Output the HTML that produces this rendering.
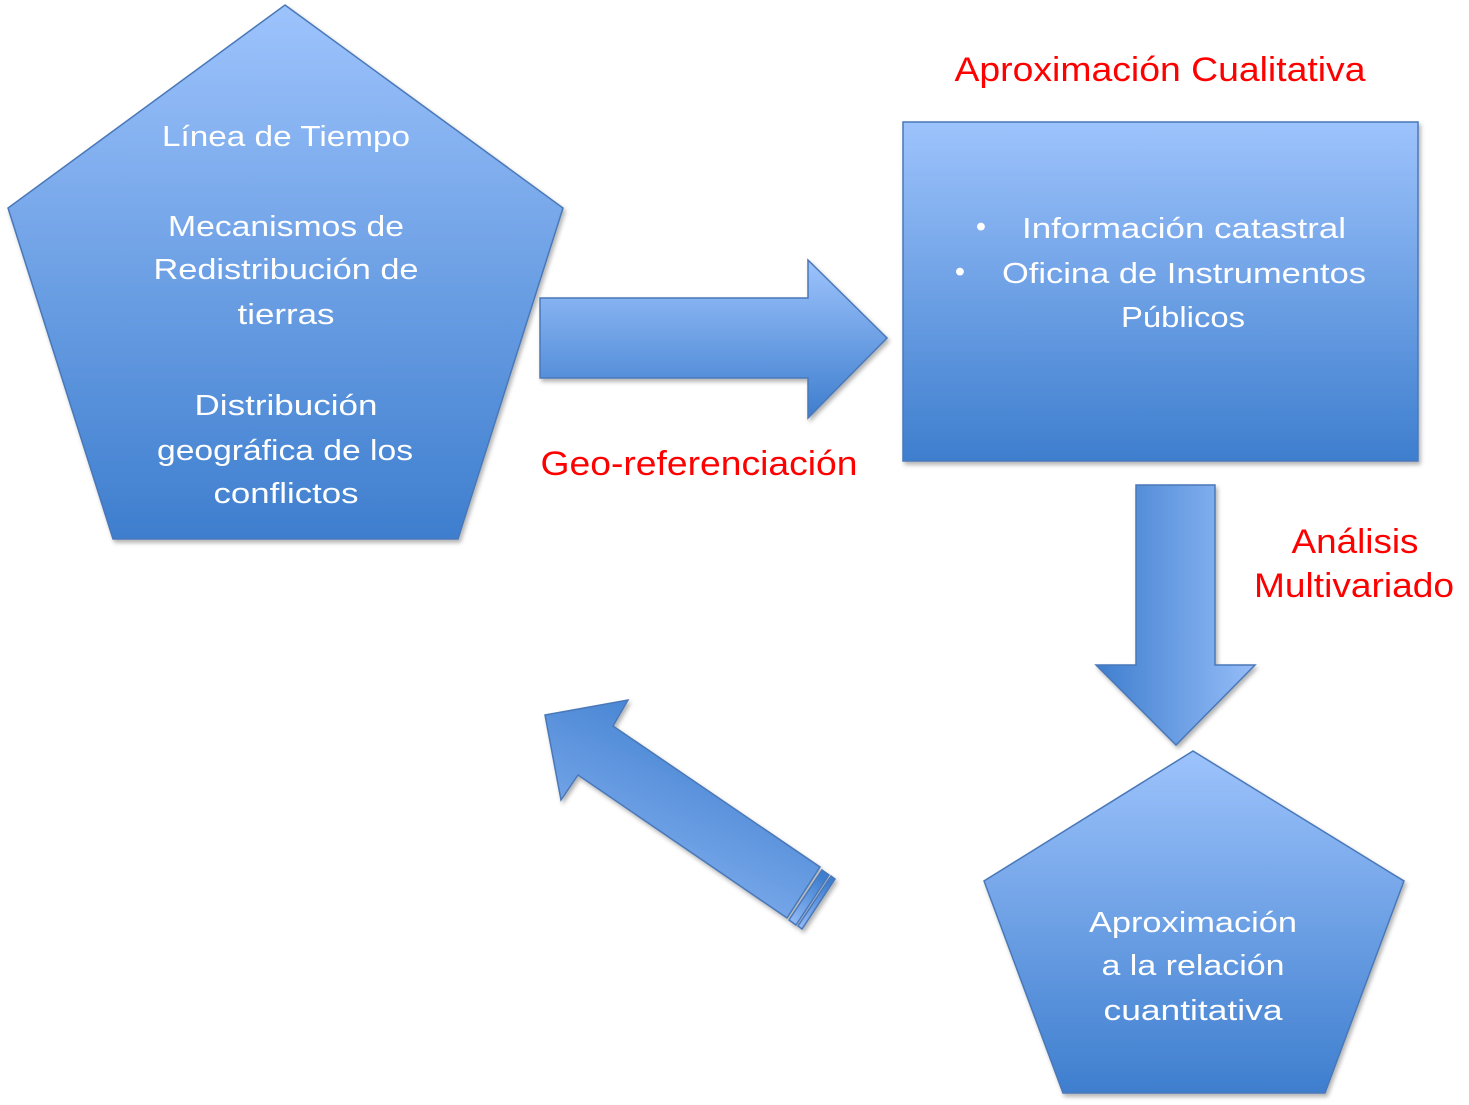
<!DOCTYPE html>
<html><head><meta charset="utf-8"><style>html,body{margin:0;padding:0;background:#fff;}svg{display:block}</style></head>
<body>
<svg width="1469" height="1105" viewBox="0 0 1469 1105" xmlns="http://www.w3.org/2000/svg">
<defs>
<linearGradient id="gv" x1="0" y1="0" x2="0" y2="1"><stop offset="0" stop-color="#9dc3fc"/><stop offset="1" stop-color="#3e7ece"/></linearGradient>
<linearGradient id="gh" x1="0" y1="0" x2="1" y2="0"><stop offset="0" stop-color="#3e7ece"/><stop offset="1" stop-color="#96bdf8"/></linearGradient>
<linearGradient id="gd" x1="0" y1="1" x2="0.6" y2="0"><stop offset="0" stop-color="#96bdf8"/><stop offset="1" stop-color="#3e7ece"/></linearGradient>
<filter id="sh" x="-5%" y="-5%" width="110%" height="110%"><feDropShadow dx="2" dy="3" stdDeviation="2" flood-color="#000" flood-opacity="0.3"/></filter>
</defs>
<g stroke="#4a78b8" stroke-width="1.5" filter="url(#sh)">
<polygon points="285,5 563,208 458,539 113,539 8,208" fill="url(#gv)"/>
<polygon points="540,298 808,298 808,260 887,338 808,418 808,378 540,378" fill="url(#gv)"/>
<rect x="903" y="122" width="515" height="339" fill="url(#gv)"/>
<polygon points="1136,485 1215,485 1215,665 1255,665 1176,745 1096,665 1136,665" fill="url(#gh)"/>
<polygon points="1193,751 1404,881 1325,1093 1063,1093 984,881" fill="url(#gv)"/>
<polygon points="545,715 628,700 613,726 820,867 787,918 578,775 561,800" fill="url(#gd)"/>
<polygon points="822,870 829,875 796,925 789,920" fill="url(#gd)"/>
<polygon points="831,876 835,879 802,929 798,926" fill="url(#gd)"/>
</g>
<g fill="#fff" font-family="'Liberation Sans',sans-serif" font-size="29" text-anchor="middle" lengthAdjust="spacingAndGlyphs">
<text x="286" y="146" textLength="248" lengthAdjust="spacingAndGlyphs">Línea de Tiempo</text>
<text x="286" y="236" textLength="236" lengthAdjust="spacingAndGlyphs">Mecanismos de</text>
<text x="286" y="279" textLength="265" lengthAdjust="spacingAndGlyphs">Redistribución de</text>
<text x="286" y="324" textLength="97" lengthAdjust="spacingAndGlyphs">tierras</text>
<text x="286" y="415" textLength="183" lengthAdjust="spacingAndGlyphs">Distribución</text>
<text x="285" y="460" textLength="256" lengthAdjust="spacingAndGlyphs">geográfica de los</text>
<text x="286" y="503" textLength="145" lengthAdjust="spacingAndGlyphs">conflictos</text>
<text x="981" y="236">•</text>
<text x="1184" y="238" textLength="324" lengthAdjust="spacingAndGlyphs">Información catastral</text>
<text x="960" y="281">•</text>
<text x="1184" y="283" textLength="364" lengthAdjust="spacingAndGlyphs">Oficina de Instrumentos</text>
<text x="1183" y="327" textLength="124" lengthAdjust="spacingAndGlyphs">Públicos</text>
<text x="1193" y="932" textLength="208" lengthAdjust="spacingAndGlyphs">Aproximación</text>
<text x="1193" y="975" textLength="183" lengthAdjust="spacingAndGlyphs">a la relación</text>
<text x="1193" y="1020" textLength="179" lengthAdjust="spacingAndGlyphs">cuantitativa</text>
</g>
<g fill="#f00" font-family="'Liberation Sans',sans-serif" font-size="34" text-anchor="middle">
<text x="1160" y="81" textLength="411" lengthAdjust="spacingAndGlyphs">Aproximación Cualitativa</text>
<text x="699" y="475" textLength="317" lengthAdjust="spacingAndGlyphs">Geo-referenciación</text>
<text x="1355" y="553" textLength="127" lengthAdjust="spacingAndGlyphs">Análisis</text>
<text x="1354" y="597" textLength="200" lengthAdjust="spacingAndGlyphs">Multivariado</text>
</g>
</svg>
</body></html>
